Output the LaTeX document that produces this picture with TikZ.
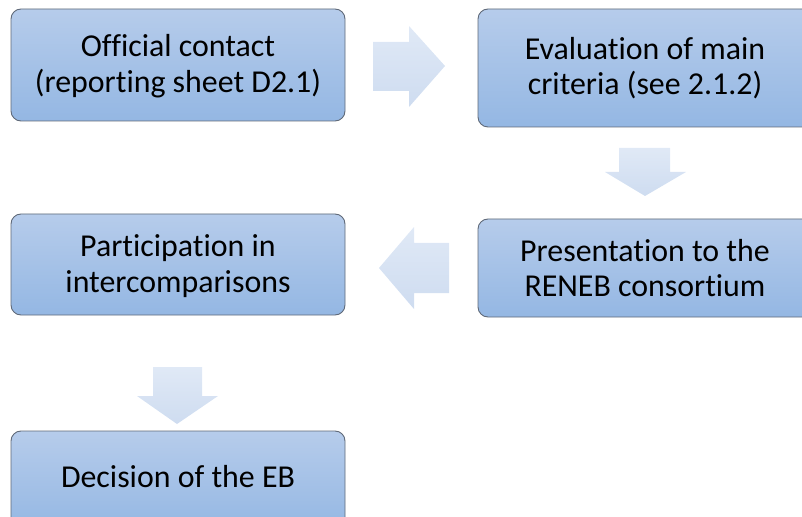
\documentclass[tikz,border=0pt]{standalone}
\usepackage{fontspec}
\setmainfont[Ligatures=NoCommon]{Carlito}
\begin{document}
\begin{tikzpicture}[x=1bp,y=-1bp,
  stepbox/.style={draw=boxline, line width=0.9bp, rounded corners=10bp,
    top color=boxtop, bottom color=boxbot},
  flowarrow/.style={draw=none, top color=arrtop, bottom color=arrbot},
  lbl/.style={align=center, font=\fontsize{32}{35.5}\selectfont, text=black,
    inner sep=0pt}]
\definecolor{boxtop}{RGB}{182,204,235}
\definecolor{boxbot}{RGB}{148,183,227}
\definecolor{boxline}{RGB}{95,105,120}
\definecolor{arrtop}{RGB}{224,233,246}
\definecolor{arrbot}{RGB}{206,220,240}
\useasboundingbox (0,0) rectangle (802,517);
\clip (0,0) rectangle (802,517);

% process steps
\path[stepbox] (11,9) rectangle (345,121);
\node[lbl] (official) at (178,66) {Official contact\\(reporting sheet D2.1)};

\path[stepbox] (478,9) rectangle (812,127);
\node[lbl] (evaluation) at (645,68) {Evaluation of main\\criteria (see 2.1.2)};

\path[stepbox] (478,219) rectangle (812,317);
\node[lbl] (presentation) at (645,268) {Presentation to the\\RENEB consortium};

\path[stepbox] (11,214) rectangle (345,315);
\node[lbl] (participation) at (178,266) {Participation in\\intercomparisons};

\path[stepbox] (11,431) rectangle (345,531);
\node[lbl] (decision) at (178,477) {Decision of the EB};

% block arrows between the steps
\path[flowarrow] (373,42) -- (409,42) -- (409,26) -- (445,66) -- (409,107)
  -- (409,91) -- (373,91) -- cycle;
\path[flowarrow] (619,148) -- (670,148) -- (670,172) -- (686,172) -- (645,196)
  -- (605,172) -- (619,172) -- cycle;
\path[flowarrow] (449,243) -- (414,243) -- (414,227) -- (379,268) -- (414,309)
  -- (414,293) -- (449,293) -- cycle;
\path[flowarrow] (153,367) -- (202,367) -- (202,396) -- (218,396) -- (177,424)
  -- (137,396) -- (153,396) -- cycle;
\end{tikzpicture}
\end{document}
